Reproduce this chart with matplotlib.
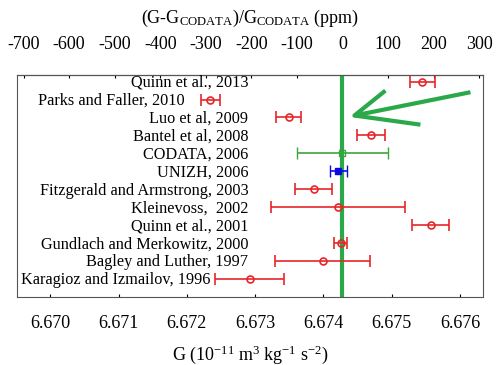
import numpy as np
import matplotlib.pyplot as plt
from matplotlib.transforms import offset_copy

plt.rcParams['font.family'] = 'Liberation Serif'
plt.rcParams['mathtext.fontset'] = 'custom'
plt.rcParams['mathtext.rm'] = 'Liberation Serif'
plt.rcParams['mathtext.it'] = 'Liberation Serif'
plt.rcParams['axes.unicode_minus'] = False

# --- DADOS ---
labels = ["Karagioz and Izmailov, 1996", "Bagley and Luther, 1997",
          "Gundlach and Merkowitz, 2000", "Quinn et al., 2001",
          "Kleinevoss,  2002", "Fitzgerald and Armstrong, 2003",
          "UNIZH, 2006", "CODATA, 2006", "Bantel et al, 2008",
          "Luo et al, 2009", "Parks and Faller, 2010", "Quinn et al., 2013"]
G_vals = [6.67292, 6.67399, 6.674255, 6.67557, 6.67421, 6.67386,
          6.67422, 6.67428, 6.67470, 6.67349, 6.67234, 6.67545]
G_err = [0.00051, 0.00070, 0.000092, 0.00027, 0.00098, 0.00027,
         0.000122, 0.00067, 0.00021, 0.00018, 0.00014, 0.00018]
kind = ['exp'] * 6 + ['unizh', 'codata'] + ['exp'] * 4

G_CODATA = 6.67428

# seta (pontos em coordenadas de dados)
arrow_x = [6.676155, 6.674455, 6.674909, 6.674455, 6.675422]
arrow_y = [11.41, 10.11, 11.50, 10.11, 9.60]

RED = '#e8262a'
GREEN = '#2aa84a'
CGREEN = '#3aa53a'
BLUE = '#0a0ae0'
FS_LAB = 11.7

fig = plt.figure(figsize=(4.97, 3.65), dpi=100)
ax = fig.add_axes([0.034, 0.186, 0.938, 0.609])

y = np.arange(1, len(labels) + 1)
ax.axvline(G_CODATA, color=GREEN, lw=3, zorder=1)

for yi, g, e, k in zip(y, G_vals, G_err, kind):
    if k == 'exp':
        ax.errorbar(g, yi, xerr=e, fmt='o', color=RED, mfc='none', ms=5,
                    mew=1.2, elinewidth=1.2, capsize=4, capthick=1.2, zorder=3)
    elif k == 'codata':
        ax.errorbar(g, yi, xerr=e, fmt='s', color=CGREEN, mfc='none', ms=5,
                    mew=1.0, elinewidth=1.2, capsize=4, capthick=1.2, zorder=3)
    else:
        ax.errorbar(g, yi, xerr=e, fmt='s', color=BLUE, mfc=BLUE, ms=5,
                    mew=1.0, elinewidth=1.2, capsize=4, capthick=1.2, zorder=3)

# rótulos alinhados à direita (dois deslocados para não sobrepor)
label_x = 6.67290
label_shift = {"Parks and Faller, 2010": 6.67197,
               "Karagioz and Izmailov, 1996": 6.67235}
trans = offset_copy(ax.transData, fig=fig, y=-0.33 * FS_LAB, units='points')
for yi, lab in zip(y, labels):
    lx = label_shift.get(lab, label_x)
    ax.text(lx, yi, lab, ha='right', va='baseline', fontsize=FS_LAB, transform=trans)

ax.plot(arrow_x[:3], arrow_y[:3], color=GREEN, lw=3, solid_capstyle='butt', zorder=2)
ax.plot(arrow_x[3:], arrow_y[3:], color=GREEN, lw=3, solid_capstyle='butt', zorder=2)

ax.set_xlim(6.66951, 6.67634)
ax.set_ylim(-0.02, 12.38)
ax.set_yticks([])
ax.set_xticks([6.670, 6.671, 6.672, 6.673, 6.674, 6.675, 6.676])
ax.set_xticklabels(['6.670', '6.671', '6.672', '6.673', '6.674', '6.675', '6.676'])
ax.tick_params(axis='x', direction='in', length=2.5, labelsize=13, pad=13)
ax.set_xlabel(r'G (10$^{-11}$ m$^3$ kg$^{-1}$ s$^{-2}$)', fontsize=13, labelpad=8)
for s in ax.spines.values():
    s.set_color('#555555')

top = ax.secondary_xaxis('top', functions=(lambda g: (g - G_CODATA) / G_CODATA * 1e6,
                                           lambda p: G_CODATA * (1 + p * 1e-6)))
top.set_xticks(np.arange(-700, 301, 100))
top.tick_params(direction='in', length=2.5, labelsize=13, pad=16)
top.set_xlabel(r'(G-G$_{\rm CODATA}$)/G$_{\rm CODATA}$ (ppm)', fontsize=13, labelpad=9)

plt.savefig('out.png', dpi=100)
